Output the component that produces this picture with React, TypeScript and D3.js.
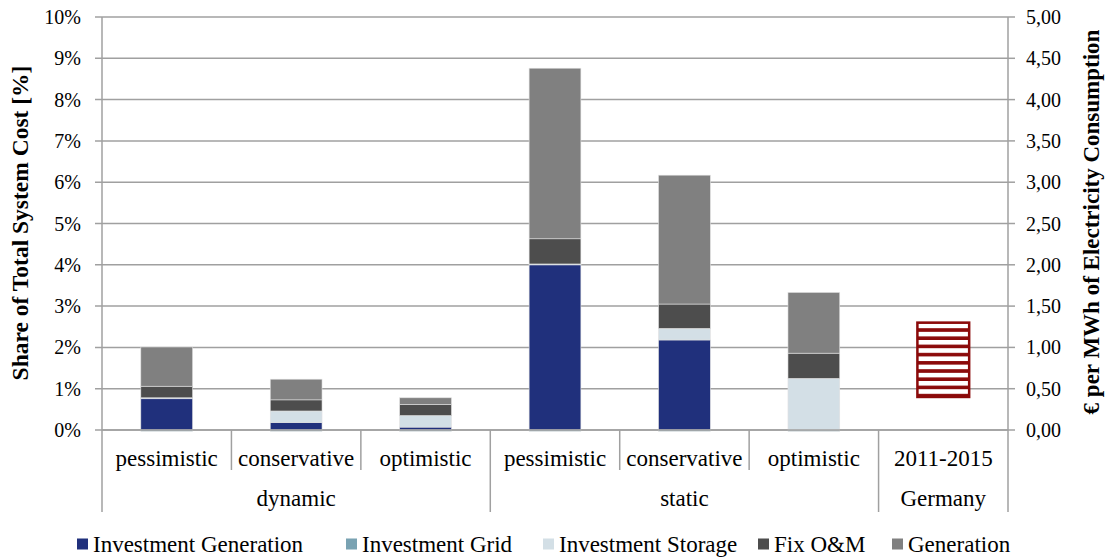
import React from 'react';
import * as d3 from 'd3';

// scenario columns, left to right
const categories = ['pessimistic', 'conservative', 'optimistic', 'pessimistic', 'conservative', 'optimistic', '2011-2015'];
const groupLabels = ['dynamic', 'static', 'Germany'];
const groupSizes = [3, 3, 1];

// share of total system cost [%]
const investmentGeneration = [0.77, 0.18, 0.07, 4.01, 2.18, 0.0, 0];
const investmentGrid = [-0.03, -0.03, -0.03, -0.03, -0.03, -0.03, 0];
const investmentStorage = [0.01, 0.28, 0.28, 0.01, 0.28, 1.25, 0];
const fixOM = [0.28, 0.27, 0.27, 0.61, 0.59, 0.61, 0];
const generation = [0.95, 0.5, 0.16, 4.13, 3.12, 1.47, 0];

// observed range for Germany, € per MWh (right axis)
const germanyRange = [0.4, 1.3];

const seriesNames = ['Investment Generation', 'Investment Grid', 'Investment Storage', 'Fix O&M', 'Generation'];
const seriesColors = ['#20307c', '#79a2b2', '#d3dfe6', '#4d4d4d', '#808080'];

const leftTicks = [0, 1, 2, 3, 4, 5, 6, 7, 8, 9, 10];
const rightTicks = [0, 0.5, 1, 1.5, 2, 2.5, 3, 3.5, 4, 4.5, 5];

const W = 1105;
const H = 558;
const left = 102;
const right = 1008;
const top = 17;
const bottom = 430;
const font = '"Liberation Serif", "Times New Roman", serif';
const gridColor = '#a0a0a0';

export default function App() {
  const rows = categories.map((c, i) => ({
    idx: i,
    'Investment Generation': investmentGeneration[i],
    'Investment Grid': investmentGrid[i],
    'Investment Storage': investmentStorage[i],
    'Fix O&M': fixOM[i],
    Generation: generation[i],
  }));

  const x = d3
    .scaleBand<number>()
    .domain(categories.map((_, i) => i))
    .range([left, right])
    .paddingInner(0.6)
    .paddingOuter(0.3);
  const step = x.step();

  const y = d3.scaleLinear().domain([0, 10]).range([bottom, top]);
  const y2 = d3.scaleLinear().domain([0, 5]).range([bottom, top]);

  const stack = d3
    .stack<any>()
    .keys(seriesNames)
    .offset(d3.stackOffsetDiverging);
  const layers = stack(rows.slice(0, 6));

  const fmtRight = (v: number) => v.toFixed(2).replace('.', ',');

  // group spans
  let acc = 0;
  const groups = groupLabels.map((g, i) => {
    const start = acc;
    acc += groupSizes[i];
    return { label: g, start, end: acc };
  });

  const gx0 = x(6)!;
  const gw = x.bandwidth();
  const gTop = y2(germanyRange[1]);
  const gBot = y2(germanyRange[0]);

  const legendX = [77, 346, 543, 758, 892];

  return (
    <svg width={W} height={H} style={{ position: 'absolute', left: 0, top: 0, background: '#fff' }} fontFamily={font}>
      <defs>
        <pattern id="stripes" patternUnits="userSpaceOnUse" width={10} height={8.2} y={gTop + 1}>
          <rect width={10} height={8.2} fill="#fff" />
          <rect y={4.6} width={10} height={3.6} fill="#8b0a0a" />
        </pattern>
      </defs>

      {/* gridlines */}
      {leftTicks.map((t) => (
        <line key={'g' + t} x1={left - 7} x2={right} y1={y(t)} y2={y(t)} stroke={gridColor} strokeWidth={1.5} />
      ))}
      {rightTicks.map((t) => (
        <line key={'r' + t} x1={right} x2={right + 7} y1={y2(t)} y2={y2(t)} stroke={gridColor} strokeWidth={1.5} />
      ))}

      {/* stacked bars */}
      {layers.map((layer, li) =>
        layer.map((d, i) => {
          const h = Math.abs(y(d[0]) - y(d[1]));
          if (h < 0.01) return null;
          return (
            <rect
              key={li + '-' + i}
              x={x(i)}
              width={x.bandwidth()}
              y={Math.min(y(d[0]), y(d[1]))}
              height={Math.max(h, 1)}
              fill={seriesColors[li]}
              stroke="#e0e0e0"
              strokeWidth={0.6}
            />
          );
        })
      )}

      {/* Germany range */}
      <rect x={gx0} y={gTop} width={gw} height={gBot - gTop} fill="url(#stripes)" stroke="#8b0a0a" strokeWidth={2.5} />

      {/* axes */}
      <line x1={left} x2={left} y1={top} y2={512} stroke={gridColor} strokeWidth={1.5} />
      <line x1={right} x2={right} y1={top} y2={512} stroke={gridColor} strokeWidth={1.5} />
      <line x1={left} x2={right} y1={bottom} y2={bottom} stroke={gridColor} strokeWidth={1.5} />

      {/* category separators */}
      {categories.map((_, i) =>
        i === 0 ? null : (
          <line
            key={'s' + i}
            x1={left + i * step}
            x2={left + i * step}
            y1={bottom}
            y2={groups.some((g) => g.start === i) ? 512 : 470}
            stroke={gridColor}
            strokeWidth={1.5}
          />
        )
      )}

      {/* category labels */}
      {categories.map((c, i) => (
        <text key={'c' + i} x={x(i)! + x.bandwidth() / 2} y={466} textAnchor="middle" fontSize={23} fill="#000">
          {c}
        </text>
      ))}
      {groups.map((g) => (
        <text key={g.label} x={left + ((g.start + g.end) / 2) * step} y={506} textAnchor="middle" fontSize={23} fill="#000">
          {g.label}
        </text>
      ))}

      {/* left tick labels */}
      {leftTicks.map((t) => (
        <text key={'lt' + t} x={81} y={y(t) + 7} textAnchor="end" fontSize={20} fill="#000">
          {t + '%'}
        </text>
      ))}
      {rightTicks.map((t) => (
        <text key={'rt' + t} x={1026} y={y2(t) + 7} textAnchor="start" fontSize={20} fill="#000">
          {fmtRight(t)}
        </text>
      ))}

      {/* axis titles */}
      <text transform="translate(28,223) rotate(-90)" textAnchor="middle" fontSize={23.5} fontWeight="bold" fill="#000">
        Share of Total System Cost [%]
      </text>
      <text transform="translate(1099,222) rotate(-90)" textAnchor="middle" fontSize={23} fontWeight="bold" fill="#000">
        € per MWh of Electricity Consumption
      </text>

      {/* legend */}
      {seriesNames.map((s, i) => (
        <g key={'lg' + i} transform={`translate(${legendX[i]},0)`}>
          <rect x={0} y={538.5} width={11} height={11} fill={seriesColors[i]} />
          <text x={16} y={552} fontSize={23} fill="#000">
            {s}
          </text>
        </g>
      ))}
    </svg>
  );
}
